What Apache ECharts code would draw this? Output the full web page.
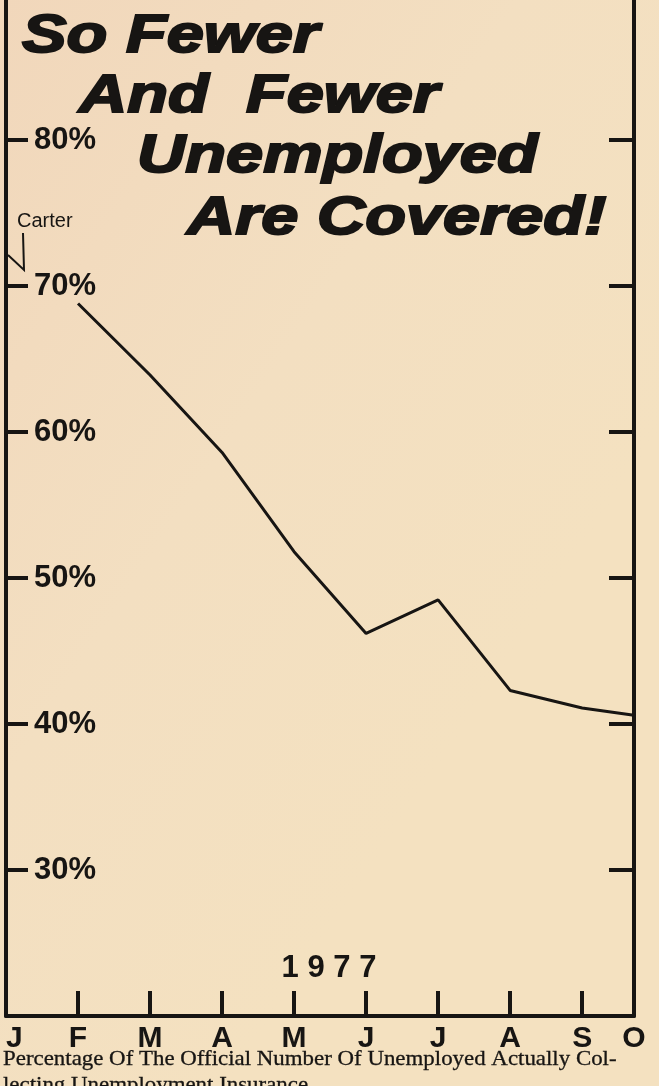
<!DOCTYPE html>
<html>
<head>
<meta charset="utf-8">
<title>So Fewer And Fewer Unemployed Are Covered!</title>
<script src="https://cdn.jsdelivr.net/npm/echarts@6/dist/echarts.min.js"></script>
<style>
html, body { margin: 0; padding: 0; background: #f2dcbe; }
#main { width: 659px; height: 1086px; }
</style>
</head>
<body>
<div id="main"></div>
<script>
// month letters along the bottom and where each one sits on the x axis (J = 0)
// October is the right-hand frame, a bit closer than the other months
var months = ['J', 'F', 'M', 'A', 'M', 'J', 'J', 'A', 'S', 'O'];
var monthPos = [0, 1, 2, 3, 4, 5, 6, 7, 8, 8.72];
// % of the official unemployed actually collecting benefits, Feb .. Oct 1977
var coverage = [68.8, 63.9, 58.6, 51.8, 46.2, 48.5, 42.3, 41.1, 40.6];
var percentTicks = [30, 40, 50, 60, 70, 80];
var titleLines = ['So Fewer', 'And  Fewer', 'Unemployed', 'Are Covered!'];
var captionLines = [
    'Percentage Of The Official Number Of Unemployed Actually Col-',
    'lecting Unemployment Insurance.'
];

var ink = '#171513';
var myChart = echarts.init(document.getElementById('main'));

var lineData = coverage.map(function (v, i) {
    return [monthPos[i + 1], v];
});

// staggered headline, each line pushed right
var titleX = [22, 79, 137, 187];
var titleY = [37, 97, 157, 219];
var graphics = titleLines.map(function (t, i) {
    return {
        type: 'text',
        x: titleX[i],
        y: titleY[i],
        scaleX: 1.26,
        style: {
            text: t,
            fill: ink,
            stroke: ink,
            lineWidth: 2,
            font: 'italic bold 53px "Liberation Sans", Arial, sans-serif',
            textAlign: 'left',
            textVerticalAlign: 'middle'
        }
    };
});

captionLines.forEach(function (t, i) {
    graphics.push({
        type: 'text',
        x: 3,
        y: 1059 + i * 26,
        scaleX: 1.09,
        style: {
            text: t,
            fill: ink,
            stroke: ink,
            lineWidth: 0.3,
            font: '21px "Liberation Serif", "Times New Roman", serif',
            textAlign: 'left',
            textVerticalAlign: 'middle'
        }
    });
});

graphics.push({
    type: 'text',
    x: 329,
    y: 968,
    style: {
        text: '1 9 7 7',
        fill: ink,
        font: 'bold 31px "Liberation Sans", Arial, sans-serif',
        textAlign: 'center',
        textVerticalAlign: 'middle'
    }
});

// Carter note with its little pointer
graphics.push({
    type: 'text',
    x: 17,
    y: 221,
    style: {
        text: 'Carter',
        fill: ink,
        font: '20px "Liberation Sans", Arial, sans-serif',
        textAlign: 'left',
        textVerticalAlign: 'middle'
    }
});
graphics.push({
    type: 'polyline',
    shape: { points: [[8, 255], [24, 270], [23, 233]] },
    style: { stroke: ink, lineWidth: 2, fill: null }
});

var yAxisBase = {
    type: 'value',
    min: 20,
    max: 90,
    interval: 10,
    axisLine: { show: true, lineStyle: { color: ink, width: 4 } },
    splitLine: { show: false }
};

option = {
    backgroundColor: {
        type: 'linear', x: 0, y: 0, x2: 1, y2: 0.4,
        colorStops: [
            { offset: 0, color: '#f1d7bb' },
            { offset: 0.55, color: '#f3dfc1' },
            { offset: 1, color: '#f4e1c0' }
        ]
    },
    animation: false,
    grid: { left: 6, right: 25, top: -6, bottom: 70, containLabel: false, outerBoundsMode: 'none' },
    xAxis: {
        type: 'value',
        min: 0,
        max: monthPos[monthPos.length - 1],
        interval: 1,
        axisLine: { show: true, onZero: false, lineStyle: { color: ink, width: 4 } },
        axisTick: {
            inside: true,
            length: 25,
            customValues: monthPos.slice(1, -1),
            lineStyle: { color: ink, width: 4 }
        },
        axisLabel: {
            customValues: monthPos,
            formatter: function (v) {
                return months[monthPos.indexOf(v)];
            },
            alignMinLabel: 'left',
            color: ink,
            fontSize: 30,
            fontWeight: 'bold',
            fontFamily: 'Liberation Sans',
            margin: 8
        },
        splitLine: { show: false }
    },
    yAxis: [
        echarts.util.merge({
            position: 'left',
            axisTick: {
                inside: true,
                length: 22,
                customValues: percentTicks,
                lineStyle: { color: ink, width: 4 }
            },
            axisLabel: {
                inside: true,
                margin: 28,
                customValues: percentTicks,
                formatter: '{value}%',
                color: ink,
                fontSize: 31,
                fontWeight: 'bold',
                fontFamily: 'Liberation Sans'
            }
        }, yAxisBase, true),
        echarts.util.merge({
            position: 'right',
            axisTick: {
                inside: true,
                length: 25,
                customValues: percentTicks,
                lineStyle: { color: ink, width: 4 }
            },
            axisLabel: { show: false }
        }, yAxisBase, true)
    ],
    graphic: graphics,
    series: [{
        type: 'line',
        data: lineData,
        symbol: 'none',
        lineStyle: { color: ink, width: 3 }
    }]
};
myChart.setOption(option);
</script>
</body>
</html>
